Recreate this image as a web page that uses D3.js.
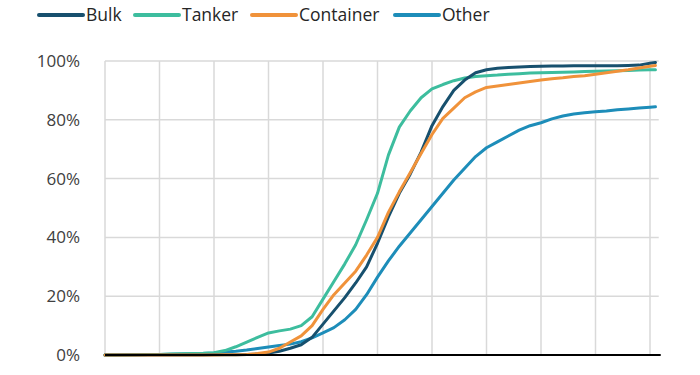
<!DOCTYPE html>
<html>
<head>
<meta charset="utf-8">
<script src="https://cdn.jsdelivr.net/npm/d3@7"></script>
<style>
  html, body { margin: 0; padding: 0; background: #ffffff; }
  svg { display: block; }
  text { font-family: "Open Sans", "Noto Sans", sans-serif; }
</style>
</head>
<body>
<svg id="chart" width="700" height="375"></svg>
<script>
// ---- data ----
const xValues = [0,2,4,6,8,10,12,14,16,18,20,22,24,26,28,30,32,34,36,38,40,42,44,46,48,50,52,54,56,58,60,62,64,66,68,70,72,74,76,78,80,82,84,86,88,90,92,94,96,98,100,101];
const bulk = [0,0,0,0,0,0,0,0,0,0,0.05,0.1,0.1,0.2,0.3,0.7,1.3,2.3,3.5,6,10.5,15,19.5,24.5,30,38,47,55,61.5,69,78,84.5,90,93.5,96,97,97.5,97.8,98,98.1,98.2,98.3,98.3,98.4,98.4,98.4,98.4,98.4,98.5,98.6,99.2,99.5];
const tanker = [0,0,0,0.1,0.2,0.2,0.3,0.4,0.5,0.6,0.8,1.5,2.8,4.4,6,7.5,8.2,8.8,10,13,19,25,31,37.5,46,55,68,77.5,83,87.5,90.5,92,93.3,94.2,94.7,95,95.2,95.5,95.7,95.9,96,96.1,96.2,96.3,96.4,96.5,96.6,96.7,96.8,96.9,97,97];
const container = [0,0,0,0,0,0,0,0,0,0,0,0.05,0.1,0.2,0.5,1,2.3,4.4,6.5,10,15.5,20.5,24.5,28.5,34,40,48.5,55.5,62,68.5,75,80.5,84,87.5,89.5,91,91.5,92,92.5,93,93.5,94,94.3,94.7,95,95.5,96,96.5,97,97.6,98.2,98.5];
const other = [0,0,0.05,0.1,0.15,0.2,0.25,0.3,0.4,0.5,0.7,1,1.3,1.7,2.2,2.7,3.2,3.7,4.5,5.8,7.5,9.3,12,15.5,20.5,26.5,32,37,41.5,46,50.5,55,59.5,63.5,67.5,70.5,72.5,74.5,76.5,78,79,80.3,81.3,82,82.4,82.7,83,83.4,83.7,84,84.3,84.4];
const seriesNames = ["Bulk", "Tanker", "Container", "Other"];
const seriesColors = ["#17506e", "#3dbd9e", "#f0923a", "#1d8db9"];
const yTicks = [0, 20, 40, 60, 80, 100];
const xGridTicks = [0,10,20,30,40,50,60,70,80,90,100];

const seriesValues = [bulk, tanker, container, other];

// ---- layout ----
const svg = d3.select("#chart");
const x = d3.scaleLinear().domain([0, 100]).range([105, 650]);
const y = d3.scaleLinear().domain([0, 100]).range([355, 61]);
const xEnd = x(101.6);

// horizontal gridlines
svg.append("g").selectAll("line").data(yTicks.filter(d => d > 0)).join("line")
  .attr("x1", x(0)).attr("x2", xEnd)
  .attr("y1", d => y(d)).attr("y2", d => y(d))
  .attr("stroke", "#d9d9d9").attr("stroke-width", 1.5);

// vertical gridlines
svg.append("g").selectAll("line").data(xGridTicks).join("line")
  .attr("x1", d => x(d)).attr("x2", d => x(d))
  .attr("y1", y(0)).attr("y2", y(100))
  .attr("stroke", "#d9d9d9").attr("stroke-width", 1.5);

// y axis labels
const yAxis = d3.axisLeft(y).tickValues(yTicks).tickFormat(d => d + "%").tickSize(0).tickPadding(0);
const gy = svg.append("g").attr("transform", "translate(80,0)").call(yAxis);
gy.select(".domain").remove();
gy.selectAll("text").attr("font-size", 17).attr("fill", "#404040")
  .attr("font-family", "'Open Sans', sans-serif");

// series lines
const line = d3.line().x((d, i) => x(xValues[i])).y(d => y(d)).curve(d3.curveLinear);
const drawOrder = [3, 1, 0, 2];
svg.append("g").selectAll("path").data(drawOrder).join("path")
  .attr("d", i => line(seriesValues[i]))
  .attr("fill", "none")
  .attr("stroke", i => seriesColors[i])
  .attr("stroke-width", 3)
  .attr("stroke-linejoin", "round")
  .attr("stroke-linecap", "round");

// x axis line
svg.append("line")
  .attr("x1", x(0)).attr("x2", xEnd + 2)
  .attr("y1", y(0)).attr("y2", y(0))
  .attr("stroke", "#000").attr("stroke-width", 2);

// legend
const legendX = [39, 135, 252, 395];
const lg = svg.append("g").selectAll("g").data(seriesNames).join("g")
  .attr("transform", (d, i) => `translate(${legendX[i]},15)`);
lg.append("line").attr("x1", 0).attr("x2", 44).attr("y1", 0).attr("y2", 0)
  .attr("stroke", (d, i) => seriesColors[i]).attr("stroke-width", 4).attr("stroke-linecap", "round");
lg.append("text").attr("x", 47).attr("y", 0).attr("dy", "0.35em")
  .attr("font-size", 17.5).attr("fill", "#262626").text(d => d);
</script>
</body>
</html>
